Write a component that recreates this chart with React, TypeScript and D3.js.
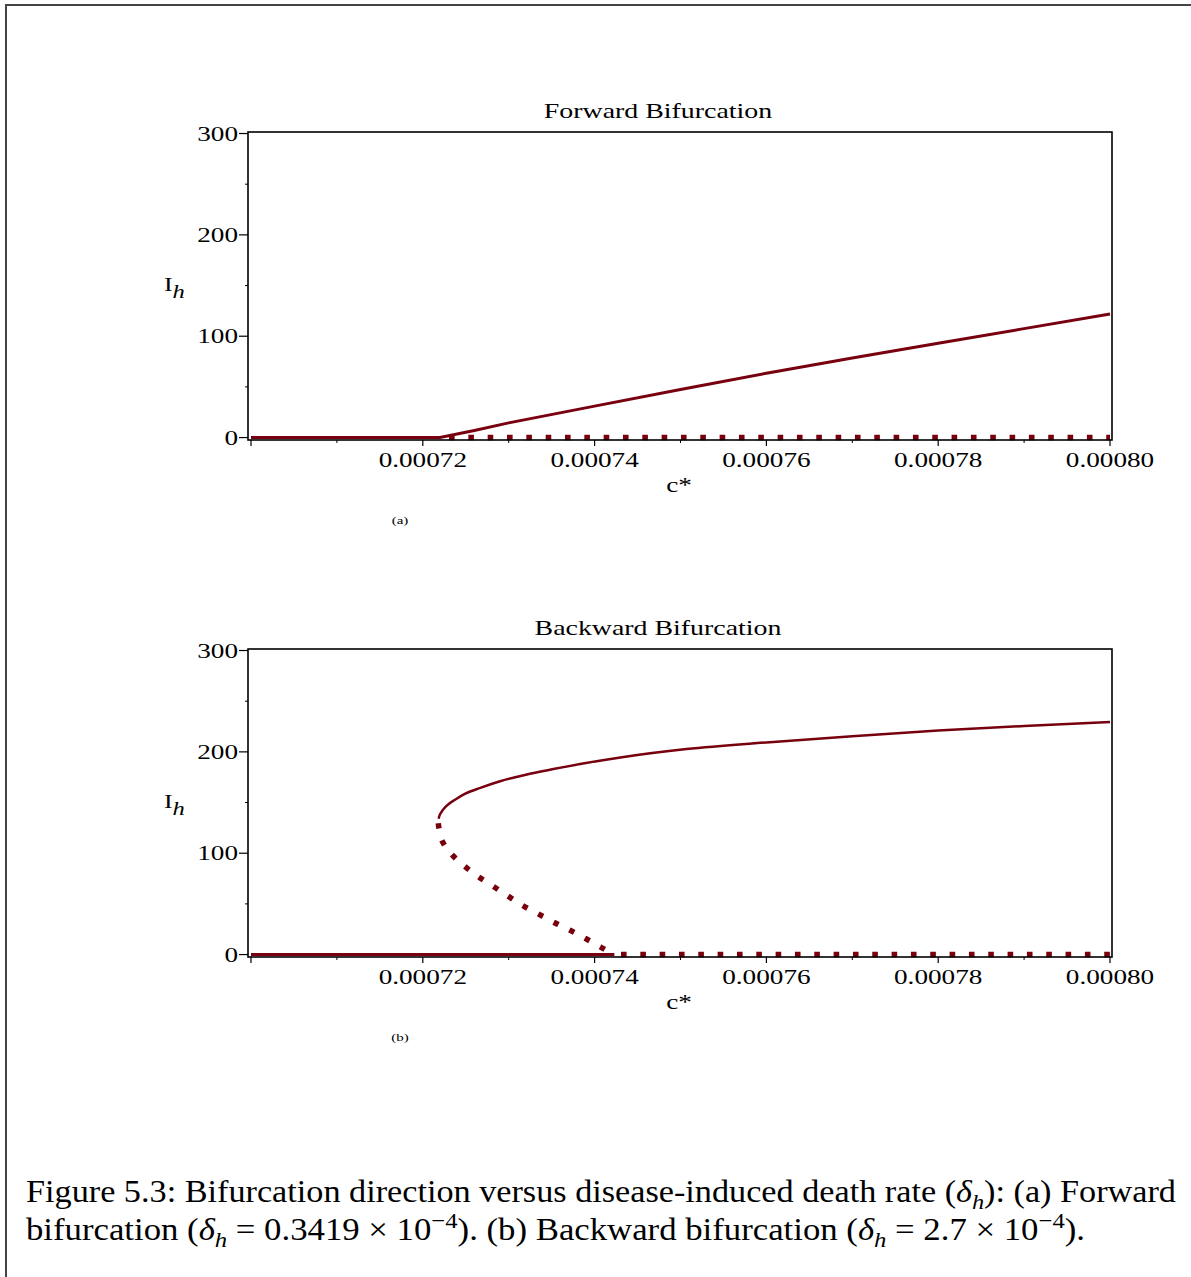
import * as d3 from "d3"
import React, { useRef, useEffect } from "react"

const W = 1191
const H = 1277
const RED = "#78000e"
const SX = 1.36 // plot text is drawn a bit wide

// c* axis
const xMajor = [0.0007, 0.00072, 0.00074, 0.00076, 0.00078, 0.0008]
const xLabels = ["", "0.00072", "0.00074", "0.00076", "0.00078", "0.00080"]
const xMinor = [0.00071, 0.00073, 0.00075, 0.00077, 0.00079]
// I_h axis
const yMajor = [0, 100, 200, 300]
const yMinor = [50, 150, 250]

// (a) forward bifurcation
const fwdStable = [
    [0.0007, 0], [0.000722, 0], [0.000726, 7], [0.00073, 14.5], [0.00074, 31],
    [0.00075, 47.5], [0.00076, 63.5], [0.00077, 78.5], [0.00078, 93], [0.00079, 107.5], [0.0008, 122]
]
const fwdUnstable = [[0.000722, 0], [0.0008, 0]]

// (b) backward bifurcation
const bwdStableLow = [[0.0007, 0], [0.0007423, 0]]
const bwdStableHigh = [
    [0.00072185, 134], [0.0007219, 136], [0.0007222, 141], [0.0007228, 147], [0.0007238, 153],
    [0.000725, 159], [0.0007267, 164.5], [0.000729, 171], [0.000732, 177.5], [0.0007352, 183],
    [0.000739, 189], [0.000743, 194.5], [0.0007507, 202.8], [0.0007604, 209.6], [0.00077, 215.5],
    [0.00078, 221], [0.00079, 225.5], [0.0008, 229.5]
]
const bwdUnstableBranch = [
    [0.0007218, 129.5], [0.0007222, 113], [0.0007233, 99.5], [0.0007248, 87.6], [0.0007263, 77.8],
    [0.0007281, 67.9], [0.0007298, 58.4], [0.0007315, 48.9], [0.0007334, 40.3], [0.0007352, 32.1],
    [0.0007371, 24.2], [0.000739, 15.6], [0.0007407, 7.4], [0.0007423, 0]
]
const bwdUnstableLow = [[0.0007423, 0], [0.0008, 0]]

const captionLine1 = [
    { t: "Figure 5.3: Bifurcation direction versus disease-induced death rate (" },
    { t: "δ", i: true }, { t: "h", i: true, sub: true },
    { t: "): (a) Forward" }
]
const captionLine2 = [
    { t: "bifurcation (" }, { t: "δ", i: true }, { t: "h", i: true, sub: true },
    { t: " = 0.3419 × 10" }, { t: "−4", sup: true },
    { t: "). (b) Backward bifurcation (" }, { t: "δ", i: true }, { t: "h", i: true, sub: true },
    { t: " = 2.7 × 10" }, { t: "−4", sup: true }, { t: ")." }
]

const panels = [
    {
        title: "Forward Bifurcation", tag: "(a)", dy: 0,
        series: [
            { data: fwdStable, kind: "solid" },
            { data: fwdUnstable, kind: "dot", offset: 10.3 }
        ]
    },
    {
        title: "Backward Bifurcation", tag: "(b)", dy: 517,
        series: [
            { data: bwdStableLow, kind: "solid" },
            { data: bwdStableHigh, kind: "curve" },
            { data: bwdUnstableBranch, kind: "dotCurve", offset: 0 },
            { data: bwdUnstableLow, kind: "dot", offset: 12.7 }
        ]
    }
]

function App() {
    const ref = useRef(null)

    useEffect(() => {
        const svg = d3.select(ref.current)
        svg.selectAll("*").remove()

        svg.append("rect").attr("width", W).attr("height", H).attr("fill", "white")

        // page frame (top + left edges)
        svg.append("path")
            .attr("d", `M6,${H} L6,5 L${W},5`)
            .attr("fill", "none").attr("stroke", "#444").attr("stroke-width", 2)

        const L = 248, R = 1112, T = 132, B = 440
        const x = d3.scaleLinear().domain([0.0007, 0.0008]).range([L + 3, R - 2])
        const y = d3.scaleLinear().domain([-2.4, 301.5]).range([B, T])

        const txt = (g, px, py, s, size, anchor, italic = false) =>
            g.append("text")
                .attr("transform", `translate(${px},${py}) scale(${SX},1)`)
                .attr("text-anchor", anchor)
                .attr("font-family", "'Liberation Serif', serif")
                .attr("font-size", size)
                .attr("font-style", italic ? "italic" : "normal")
                .attr("fill", "black")
                .text(s)

        const curves = {
            solid: d3.curveLinear,
            dot: d3.curveLinear,
            curve: d3.curveMonotoneX,
            dotCurve: d3.curveCatmullRom
        }

        panels.forEach(p => {
            const g = svg.append("g").attr("transform", `translate(0,${p.dy})`)

            // curves
            p.series.forEach(s => {
                const line = d3.line()
                    .x(d => x(d[0]))
                    .y(d => y(d[1]))
                    .curve(curves[s.kind])
                const path = g.append("path")
                    .attr("d", line(s.data))
                    .attr("fill", "none")
                    .attr("stroke", RED)
                if (s.kind === "solid") path.attr("stroke-width", 3)
                if (s.kind === "curve") path.attr("stroke-width", 2.5)
                if (s.kind === "dot") path.attr("stroke-width", 5.5).attr("stroke-dasharray", "5.6 13.73").attr("stroke-dashoffset", s.offset)
                if (s.kind === "dotCurve") path.attr("stroke-width", 5.5).attr("stroke-dasharray", "5.4 12.1").attr("stroke-dashoffset", s.offset)
            })

            // box
            g.append("rect")
                .attr("x", L).attr("y", T).attr("width", R - L).attr("height", B - T)
                .attr("fill", "none").attr("stroke", "black").attr("stroke-width", 1.6)

            // x ticks
            xMajor.forEach((v, i) => {
                g.append("line").attr("x1", x(v)).attr("x2", x(v)).attr("y1", B).attr("y2", B + 6)
                    .attr("stroke", "black").attr("stroke-width", 1.2)
                if (xLabels[i]) txt(g, x(v), B + 27, xLabels[i], 20, "middle")
            })
            xMinor.forEach(v => {
                g.append("line").attr("x1", x(v)).attr("x2", x(v)).attr("y1", B).attr("y2", B + 3)
                    .attr("stroke", "black").attr("stroke-width", 1)
            })

            // y ticks
            yMajor.forEach(v => {
                g.append("line").attr("x1", L - 9).attr("x2", L).attr("y1", y(v)).attr("y2", y(v))
                    .attr("stroke", "black").attr("stroke-width", 1.2)
                txt(g, L - 10, y(v) + 7, String(v), 20, "end")
            })
            yMinor.forEach(v => {
                g.append("line").attr("x1", L - 3).attr("x2", L).attr("y1", y(v)).attr("y2", y(v))
                    .attr("stroke", "black").attr("stroke-width", 1)
            })

            // labels
            txt(g, 658, T - 14, p.title, 20.5, "middle")
            txt(g, 679, B + 52, "c*", 20, "middle")
            txt(g, 400, B + 84, p.tag, 11, "middle")
            txt(g, 164, 291, "I", 19, "start")
            txt(g, 172.5, 298, "h", 18, "start", true)
        })

        // caption
        const caption = (segs, by, len) => {
            const t = svg.append("text")
                .attr("x", 26).attr("y", by)
                .attr("font-family", "'Liberation Serif', serif")
                .attr("font-size", 31)
                .attr("fill", "black")
                .attr("textLength", len)
                .attr("lengthAdjust", "spacingAndGlyphs")
                .style("white-space", "pre")
            let pending = 0
            segs.forEach(s => {
                const shift = s.sub ? 7 : s.sup ? -12 : 0
                t.append("tspan")
                    .attr("font-style", s.i ? "italic" : "normal")
                    .attr("font-size", shift ? 22 : 31)
                    .attr("dy", shift - pending)
                    .text(s.t)
                pending = shift
            })
        }
        caption(captionLine1, 1202, 1150)
        caption(captionLine2, 1240, 1059)
    }, [])

    return (
        <svg ref={ref} width={W} height={H}
            style={{ position: "absolute", left: 0, top: 0, display: "block" }} />
    )
}

export default App
